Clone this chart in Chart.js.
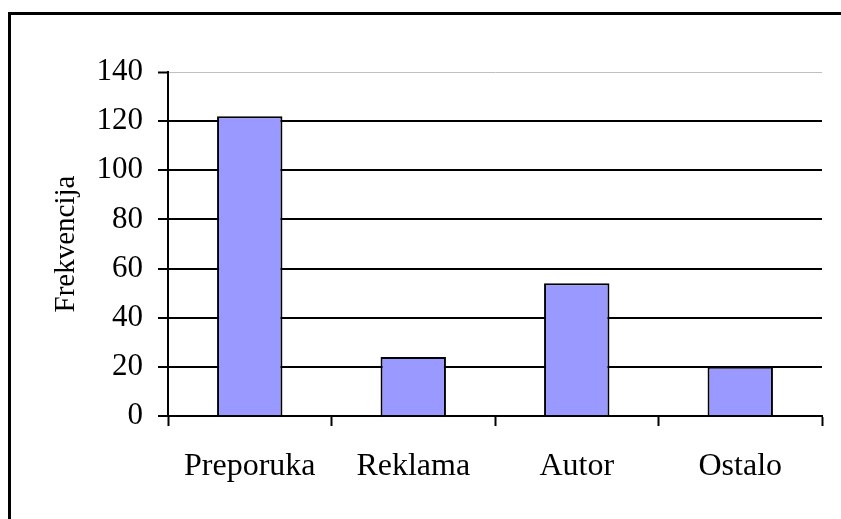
<!DOCTYPE html>
<html>
<head>
<meta charset="utf-8">
<script src="https://cdn.jsdelivr.net/npm/chart.js@4"></script>
<style>
  html, body { margin: 0; padding: 0; background: #fff; overflow: hidden; }
  #wrap { position: relative; width: 841px; height: 519px; }
</style>
</head>
<body>
<div id="wrap"><canvas id="chart" width="841" height="519"></canvas></div>
<script>
const categories = ['Preporuka', 'Reklama', 'Autor', 'Ostalo'];
const frequencies = [122, 24, 54, 20];
const yTickValues = [0, 20, 40, 60, 80, 100, 120, 140];
const yAxisTitle = 'Frekvencija';

const FONT = "'Liberation Serif', 'Times New Roman', serif";

// left + top edge of the outer chart frame (right/bottom are cut off in the picture)
const framePlugin = {
  id: 'frame',
  afterDraw(chart) {
    const ctx = chart.ctx;
    ctx.save();
    ctx.strokeStyle = '#000';
    ctx.lineWidth = 3;
    ctx.strokeRect(9.5, 13.5, 1000, 700);
    ctx.restore();
  }
};

new Chart(document.getElementById('chart'), {
  type: 'bar',
  data: {
    labels: categories,
    datasets: [{
      data: frequencies,
      backgroundColor: '#9999ff',
      borderColor: '#000',
      borderWidth: 2,
      barPercentage: 0.4,
      categoryPercentage: 1.0
    }]
  },
  options: {
    responsive: false,
    animation: false,
    devicePixelRatio: 1,
    layout: { padding: { left: 0, top: 72, right: 19, bottom: 0 } },
    plugins: { legend: { display: false }, tooltip: { enabled: false } },
    scales: {
      x: {
        afterFit: s => { s.height = 103; },
        grid: { drawOnChartArea: false, drawTicks: true, tickLength: 10, tickColor: '#000', tickWidth: 2 },
        border: { display: true, color: '#000', width: 2 },
        ticks: { color: '#000', padding: 21, font: { family: FONT, size: 32 }, maxRotation: 0 }
      },
      y: {
        min: 0,
        max: 140,
        afterFit: s => { s.width = 168; },
        afterBuildTicks: s => { s.ticks = yTickValues.map(v => ({ value: v })); },
        grid: {
          color: c => c.tick && c.tick.value === 140 ? '#c0c0c0' : '#000',
          lineWidth: c => c.tick && c.tick.value === 140 ? 1 : 2,
          tickLength: 10, tickColor: '#000', tickWidth: 2
        },
        border: { display: true, color: '#000', width: 2 },
        ticks: { color: '#000', padding: 15, font: { family: FONT, size: 31 } },
        title: {
          display: true,
          text: yAxisTitle,
          color: '#000',
          font: { family: FONT, size: 29 },
          padding: { top: 49, bottom: 0 }
        }
      }
    }
  },
  plugins: [framePlugin]
});
</script>
</body>
</html>
